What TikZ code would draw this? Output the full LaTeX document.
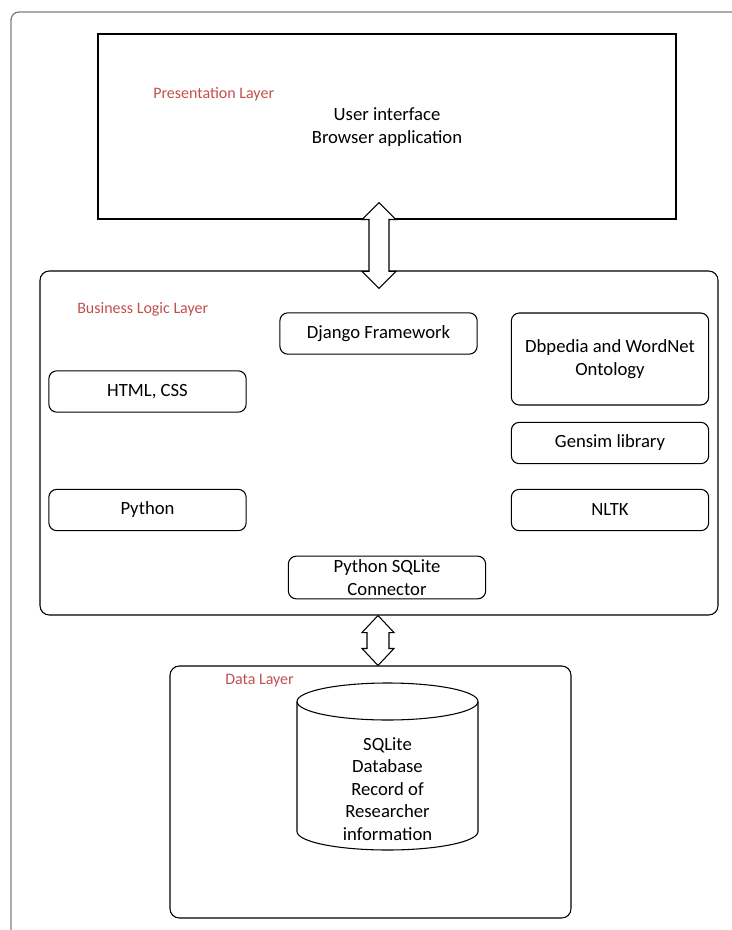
\documentclass[tikz,border=0pt]{standalone}
\usepackage{fontspec}
\setmainfont{Carlito}
\usetikzlibrary{calc}
\definecolor{layerred}{RGB}{192,80,77}
\definecolor{framegray}{RGB}{128,128,128}

% double block arrow between two points: tip, tip, head half width, shaft half width
\newcommand{\blockarrow}[4]{%
  \draw[fill=white, line width=0.8pt] (#1) -- ++(#3,17) -- ++(#4-#3,0)
    -- ($(#2)+(#4,-17)$) -- ++(#3-#4,0) -- (#2) -- ++(-#3,-17) -- ++(#3-#4,0)
    -- ($(#1)+(-#4,17)$) -- ++(#4-#3,0) -- cycle;}

\begin{document}
\begin{tikzpicture}[x=0.75pt, y=-0.75pt,
	txt/.style={font=\fontsize{14}{16.8}\selectfont, align=center},
	lbl/.style={font=\fontsize{12}{14}\selectfont, text=layerred, anchor=west, inner sep=0pt},
	layer/.style={draw, line width=0.8pt, inner sep=0pt},
	blk/.style={draw, txt, line width=0.8pt, rounded corners=6pt, inner sep=0pt,
		minimum width=148pt, minimum height=31pt}]
	\useasboundingbox (0,0) rectangle (731,930);

	%cornice
	\draw[framegray, line width=1pt, rounded corners=6pt] (760,12) -- (11,12) -- (11,960);

	%livelli
	\node[layer, minimum width=433.5pt, minimum height=138.75pt] (pres) at (387,126.5) {};
	\node[layer, rounded corners=7pt, minimum width=508.5pt, minimum height=258pt] (biz) at (379,443) {};
	\node[layer, rounded corners=7pt, minimum width=300.75pt, minimum height=189pt] (data) at (370.5,792) {};

	%etichette
	\node[lbl] (preslbl) at (153,94) {Presentation Layer};
	\node[lbl] (bizlbl) at (77,309) {Business Logic Layer};
	\node[lbl] (datalbl) at (225,681) {Data Layer};
	\node[txt] (ui) at (387,127) {User interface\\Browser application};

	%componenti
	\node[blk] (django) at (378.5,333.5) {Django Framework};
	\node[blk, minimum height=69pt] (onto) at (610,359) {Dbpedia and WordNet\\Ontology};
	\node[blk] (html) at (147.5,391.5) {HTML, CSS};
	\node[blk] (gensim) at (610,443) {Gensim library};
	\node[blk] (python) at (147.5,510) {Python};
	\node[blk] (nltk) at (610,510) {NLTK};
	\node[blk, minimum height=32pt] (conn) at (387,577.5) {Python SQLite\\Connector};

	%database
	\draw[line width=0.8pt] (297,701.5) -- (297,831.5)
		arc[start angle=180, end angle=0, x radius=90.5, y radius=18.5] -- (478,701.5);
	\draw[line width=0.8pt] (387.5,701.5) ellipse[x radius=90.5, y radius=18.5];
	\node[txt, font=\fontsize{14}{16.9}\selectfont] (db) at (387.5,789)
		{SQLite\\Database\\Record of\\Researcher\\information};

	%frecce
	\coordinate (up1) at ($(pres.south -| biz.north)+(0,-17)$);
	\coordinate (dn1) at ($(biz.north)+(0,18)$);
	\blockarrow{up1}{dn1}{17}{10}
	\coordinate (up2) at ($(biz.south)+(-1,0)$);
	\coordinate (dn2) at (data.north -| up2);
	\blockarrow{up2}{dn2}{16}{11}
\end{tikzpicture}
\end{document}
